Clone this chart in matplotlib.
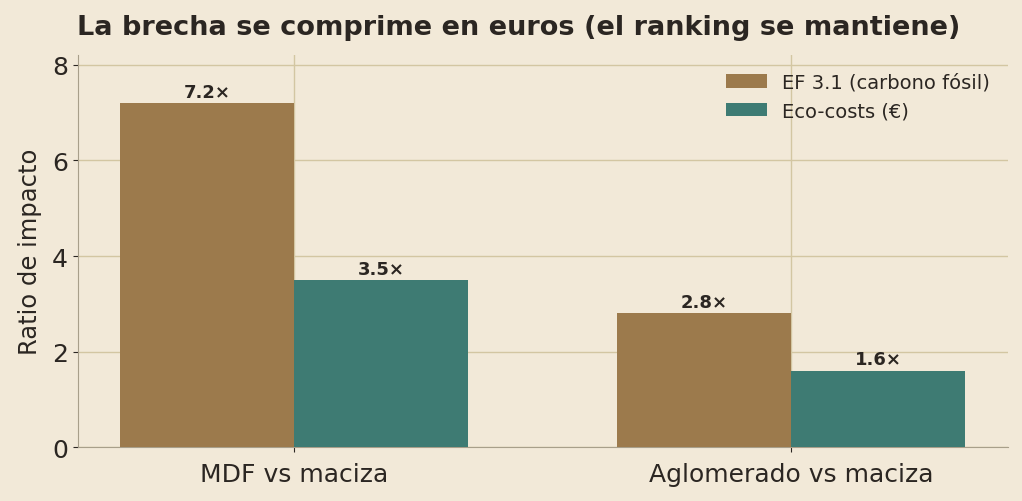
import matplotlib
matplotlib.use("Agg")
import matplotlib.pyplot as plt
import numpy as np

# datos
categorias = ["MDF vs maciza", "Aglomerado vs maciza"]
ef31 = [7.2, 2.8]
ecocosts = [3.5, 1.6]
series_labels = ["EF 3.1 (carbono fósil)", "Eco-costs (€)"]

bg = "#f2e9d8"
texto = "#2b2622"
c_ef = "#9c7a4c"
c_eco = "#3e7b73"

plt.rcParams["font.family"] = "DejaVu Sans"
plt.rcParams["text.color"] = texto

fig, ax = plt.subplots(figsize=(10.22, 5.02), dpi=100)
fig.patch.set_facecolor(bg)
ax.set_facecolor(bg)

x = np.arange(len(categorias))
w = 0.35
b1 = ax.bar(x - w / 2, ef31, w, color=c_ef, label=series_labels[0], zorder=3)
b2 = ax.bar(x + w / 2, ecocosts, w, color=c_eco, label=series_labels[1], zorder=3)

for bars, vals in [(b1, ef31), (b2, ecocosts)]:
    for b, v in zip(bars, vals):
        ax.text(b.get_x() + b.get_width() / 2, v + 0.05, f"{v:.1f}×",
                ha="center", va="bottom", fontsize=13, fontweight="bold", color=texto)

ax.set_xticks(x)
ax.set_xticklabels(categorias)
ax.set_ylim(0, 8.2)
ax.set_ylabel("Ratio de impacto", fontsize=17.5, color=texto, labelpad=7)
fig.suptitle("La brecha se comprime en euros (el ranking se mantiene)",
             x=0.508, y=0.97, fontsize=19.5, fontweight="bold", color=texto)

ax.grid(True, color="#d3c6a2", linewidth=1, zorder=0)
ax.set_axisbelow(True)
for s in ["top", "right"]:
    ax.spines[s].set_visible(False)
for s in ["left", "bottom"]:
    ax.spines[s].set_color("#a89f8a")
ax.tick_params(axis="both", labelsize=18, colors=texto, labelcolor=texto)
ax.tick_params(axis="x", pad=7)

leg = ax.legend(frameon=False, fontsize=14, loc="upper right",
                handlelength=2.1, bbox_to_anchor=(1.0, 1.0))
for t in leg.get_texts():
    t.set_color(texto)

plt.subplots_adjust(left=0.076, right=0.986, top=0.888, bottom=0.107)
fig.savefig("out.png", dpi=100, facecolor=bg)
